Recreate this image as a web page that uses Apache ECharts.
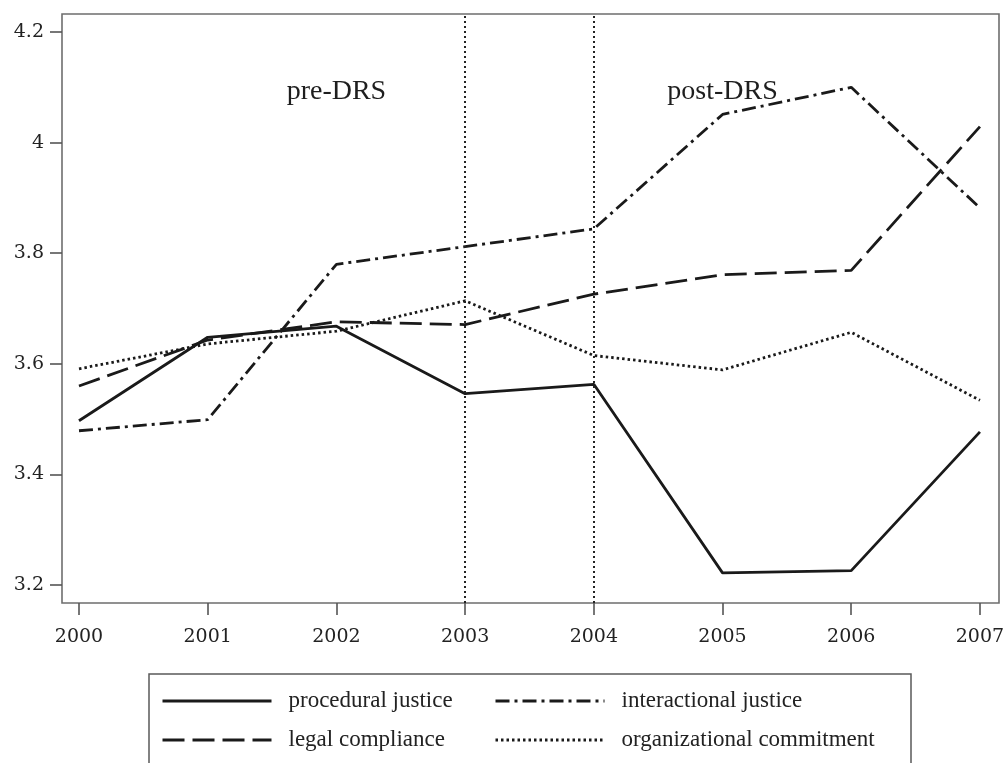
<!DOCTYPE html>
<html>
<head>
<meta charset="utf-8">
<script src="https://cdn.jsdelivr.net/npm/echarts@6.0.0/dist/echarts.min.js"></script>
<style>
  html, body { margin: 0; padding: 0; background: #fff; }
  #chart { width: 1008px; height: 763px; }
</style>
</head>
<body>
<div id="chart"></div>
<script>
// Yearly means of four justice / attitude measures, 2000-2007
const years = [2000, 2001, 2002, 2003, 2004, 2005, 2006, 2007];
const procedural = [3.497, 3.648, 3.668, 3.546, 3.563, 3.222, 3.226, 3.477];
const interactional = [3.479, 3.499, 3.780, 3.812, 3.844, 4.051, 4.100, 3.882];
const legal = [3.560, 3.643, 3.676, 3.671, 3.726, 3.761, 3.769, 4.029];
const organizational = [3.591, 3.636, 3.659, 3.714, 3.615, 3.589, 3.657, 3.534];

const yTicks = [3.2, 3.4, 3.6, 3.8, 4.0, 4.2];
const yTickLabels = ['3.2', '3.4', '3.6', '3.8', '4', '4.2'];

// Period boundaries and period captions
const periodBounds = [2003, 2004];
const periodLabels = [
  { year: 2002, value: 4.093, text: 'pre-DRS' },
  { year: 2005, value: 4.093, text: 'post-DRS' }
];

const ink = '#1a1a1a';
const serif = 'DejaVu Serif';
const textSerif = 'Liberation Serif';

function pairs(values) {
  return years.map((y, i) => [y, values[i]]);
}

function lineSeries(name, values, dash) {
  return {
    name: name,
    type: 'line',
    data: pairs(values),
    symbol: 'none',
    showSymbol: false,
    lineStyle: { color: ink, width: 2.8, type: dash, cap: 'butt' },
    itemStyle: { color: ink },
    z: 3
  };
}

const chart = echarts.init(document.getElementById('chart'), null, { renderer: 'canvas' });

const legendText = { fontFamily: textSerif, fontSize: 23, color: '#222', lineHeight: 24, padding: [0, 0, 0, 12] };
const legendCommon = {
  orient: 'vertical',
  top: 689,
  padding: 0,
  itemWidth: 109, itemHeight: 20, itemGap: 15,
  itemStyle: { opacity: 0 },
  lineStyle: { width: 3 },
  textStyle: legendText
};

chart.setOption({
  animation: false,
  backgroundColor: '#ffffff',
  grid: {
    left: 62, right: 9, top: 14, bottom: 160,
    show: true, borderColor: '#6e6e6e', borderWidth: 1.6, backgroundColor: 'transparent'
  },
  xAxis: {
    type: 'value',
    min: 1999.868,
    max: 2007.148,
    axisLine: { show: false },
    splitLine: { show: false },
    axisTick: { show: true, length: 12, customValues: years, lineStyle: { color: '#555', width: 1.6 } },
    axisLabel: {
      customValues: years,
      margin: 25,
      fontFamily: serif, fontSize: 19, color: '#222',
      formatter: v => String(Math.round(v))
    }
  },
  yAxis: {
    type: 'value',
    min: 3.1675,
    max: 4.2326,
    axisLine: { show: false },
    splitLine: { show: false },
    axisTick: { show: true, length: 12, customValues: yTicks, lineStyle: { color: '#555', width: 1.6 } },
    axisLabel: {
      customValues: yTicks,
      margin: 18,
      fontFamily: serif, fontSize: 19, color: '#222',
      formatter: v => yTickLabels[yTicks.findIndex(t => Math.abs(t - v) < 1e-6)]
    }
  },
  legend: [
    Object.assign({ data: ['procedural justice', 'legal compliance'], left: 161 }, legendCommon),
    Object.assign({ data: ['interactional justice', 'organizational commitment'], left: 494 }, legendCommon)
  ],
  graphic: [
    {
      type: 'rect',
      shape: { x: 149, y: 674, width: 762, height: 130 },
      style: { fill: 'none', stroke: '#5a5a5a', lineWidth: 1.5 },
      silent: true
    }
  ],
  series: [
    lineSeries('procedural justice', procedural, 'solid'),
    lineSeries('interactional justice', interactional, [14, 5, 3, 5]),
    lineSeries('legal compliance', legal, [22, 8]),
    lineSeries('organizational commitment', organizational, [2.5, 3]),
    {
      name: 'periods',
      type: 'scatter',
      data: periodLabels.map(p => [p.year, p.value, p.text]),
      symbolSize: 0,
      silent: true,
      itemStyle: { opacity: 1, color: '#222' },
      label: {
        show: true,
        position: 'inside',
        formatter: p => p.value[2],
        fontFamily: textSerif, fontSize: 28, color: '#1e1e1e', opacity: 1
      },
      markLine: {
        silent: true,
        symbol: 'none',
        label: { show: false },
        lineStyle: { color: '#222', width: 2, type: [2, 3] },
        data: periodBounds.map(b => ({ xAxis: b }))
      },
      z: 2
    }
  ]
});
</script>
</body>
</html>
